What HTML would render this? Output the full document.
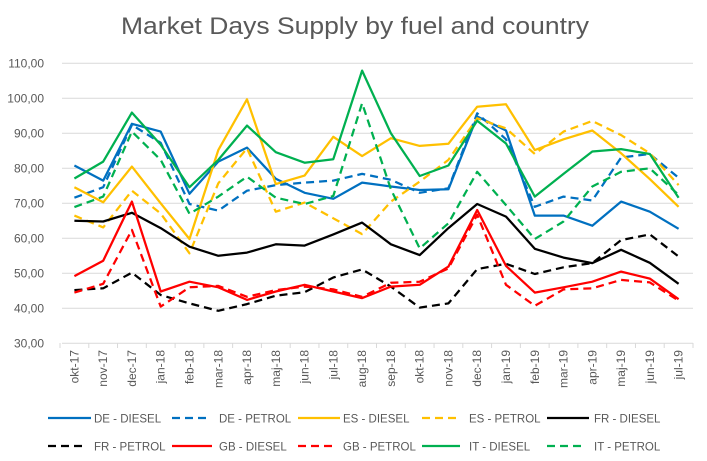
<!DOCTYPE html>
<html><head><meta charset="utf-8"><style>
html,body{margin:0;padding:0;background:#fff;}
svg{display:block;font-family:"Liberation Sans",sans-serif;}
</style></head><body>
<svg width="707" height="461" viewBox="0 0 707 461" xmlns="http://www.w3.org/2000/svg">
<rect width="707" height="461" fill="#fff"/>
<text x="355" y="34" text-anchor="middle" font-size="24" fill="#595959" textLength="468" lengthAdjust="spacingAndGlyphs">Market Days Supply by fuel and country</text>
<g id="grid" stroke="#d9d9d9" stroke-width="1"></g>
<g id="ylab" font-size="12" fill="#595959" text-anchor="end"></g>
<g id="xlab" font-size="12" fill="#595959"></g>
<g id="series" fill="none" stroke-width="2.25" stroke-linejoin="round"></g>
<g id="legend" font-size="11.5" fill="#595959"></g>
<script>
var ns="http://www.w3.org/2000/svg";
function el(t,a,p,txt){var e=document.createElementNS(ns,t);for(var k in a)e.setAttribute(k,a[k]);if(txt)e.textContent=txt;document.getElementById(p).appendChild(e);return e;}
function Y(v){return 63.3+(110-v)*3.5;}
var x0=60,x1=693,n=22,st=(x1-x0)/n;
function X(i){return x0+st*(i+0.5);}
for(var v=30;v<=110;v+=10){var y=Y(v);el('line',{x1:62,x2:693,y1:y,y2:y},'grid');el('text',{x:44,y:y+4},'ylab',v.toFixed(2).replace('.',','));}
for(var i=0;i<=n;i++){var x=x0+st*i;el('line',{x1:x,x2:x,y1:343,y2:348},'grid');}
var cats=["okt-17","nov-17","dec-17","jan-18","feb-18","mar-18","apr-18","maj-18","jun-18","jul-18","aug-18","sep-18","okt-18","nov-18","dec-18","jan-19","feb-19","mar-19","apr-19","maj-19","jun-19","jul-19"];
cats.forEach(function(c,i){var x=X(i)+4;el('text',{x:x,y:350,transform:'rotate(-90 '+x+' 350)','text-anchor':'end'},'xlab',c);});
var S=[
["DE - DIESEL","#0070C0",0,[80.8,76.5,92.7,90.5,72.7,81.9,85.9,77,73,71.3,75.9,74.8,73.8,74,94.8,90.8,66.5,66.5,63.6,70.5,67.6,62.7]],
["DE - PETROL","#0070C0",1,[71.6,74.6,92.4,87.3,69.8,67.9,73.6,75.2,75.9,76.5,78.4,76.7,73,74.3,95.7,88.3,69,71.9,70.8,83.1,84.1,77.3]],
["ES - DIESEL","#FFC000",0,[74.6,70.3,80.5,70,59.8,85.2,99.7,75.5,77.9,89,83.5,88.6,86.4,87,97.6,98.3,85.2,88.3,90.8,84.3,76.9,69]],
["ES - PETROL","#FFC000",1,[66.5,63.1,73.6,67.1,55.7,75.7,85.7,67.6,70.2,65.7,61.2,70.5,76.2,82.4,94.3,91.4,84.1,90.5,93.5,89.5,84.3,75.2]],
["FR - DIESEL","#000000",0,[65,64.8,67.3,62.9,57.6,55,55.9,58.3,57.9,61.1,64.5,58.3,55.2,62.9,69.8,66.2,57,54.5,52.9,56.7,53,47]],
["FR - PETROL","#000000",1,[45.2,45.7,50.2,43.8,41.4,39.3,41.2,43.6,44.6,48.8,51.1,46.2,40.2,41.4,51.2,52.7,49.8,51.7,52.9,59.5,61.1,54.8]],
["GB - DIESEL","#FF0000",0,[49.2,53.6,70.5,44.8,47.6,46,42.4,44.8,46.7,44.8,42.9,46.2,46.7,51.9,68.1,52.1,44.5,46,47.6,50.5,48.5,42.6]],
["GB - PETROL","#FF0000",1,[44.5,47,62.4,40.5,46,46.4,43.3,45.2,46.2,45.4,43.3,47.3,47.6,51.4,66.7,46.7,40.7,45.4,45.7,48.1,47.4,42.2]],
["IT - DIESEL","#00B050",0,[77.1,81.9,95.9,86.7,74.6,82.4,92.2,84.6,81.6,82.6,107.9,90,77.8,80.8,93.6,87.1,71.9,78.4,84.8,85.5,84.1,71.6]],
["IT - PETROL","#00B050",1,[68.9,71.9,90.5,82.4,67,71.9,77.6,71.6,69.8,72.1,98.6,74,57.1,64.3,79,69.5,59.8,64.8,74.8,79,80,72.4]]
];
var lx=[[48,91,94],[172,212,219],[298,340,343],[422,460,469],[547,589,594]];
S.forEach(function(s,k){
 var d=s[3].map(function(v,i){return (i?'L':'M')+X(i).toFixed(1)+' '+Y(v).toFixed(1);}).join(' ');
 var a={d:d,stroke:s[1]};if(s[2])a['stroke-dasharray']='8 5';
 el('path',a,'series');
 var r=Math.floor(k/5),c=k%5,y=r?446:418,L=lx[c];
 var b={x1:L[0],x2:s[2]?L[0]+38:L[1],y1:y,y2:y,stroke:s[1],'stroke-width':2.25};if(s[2])b['stroke-dasharray']='8 5';
 el('line',b,'legend');
 el('text',{x:L[2],y:y+4.5},'legend',s[0]);
});
</script>
</svg>
</body></html>
